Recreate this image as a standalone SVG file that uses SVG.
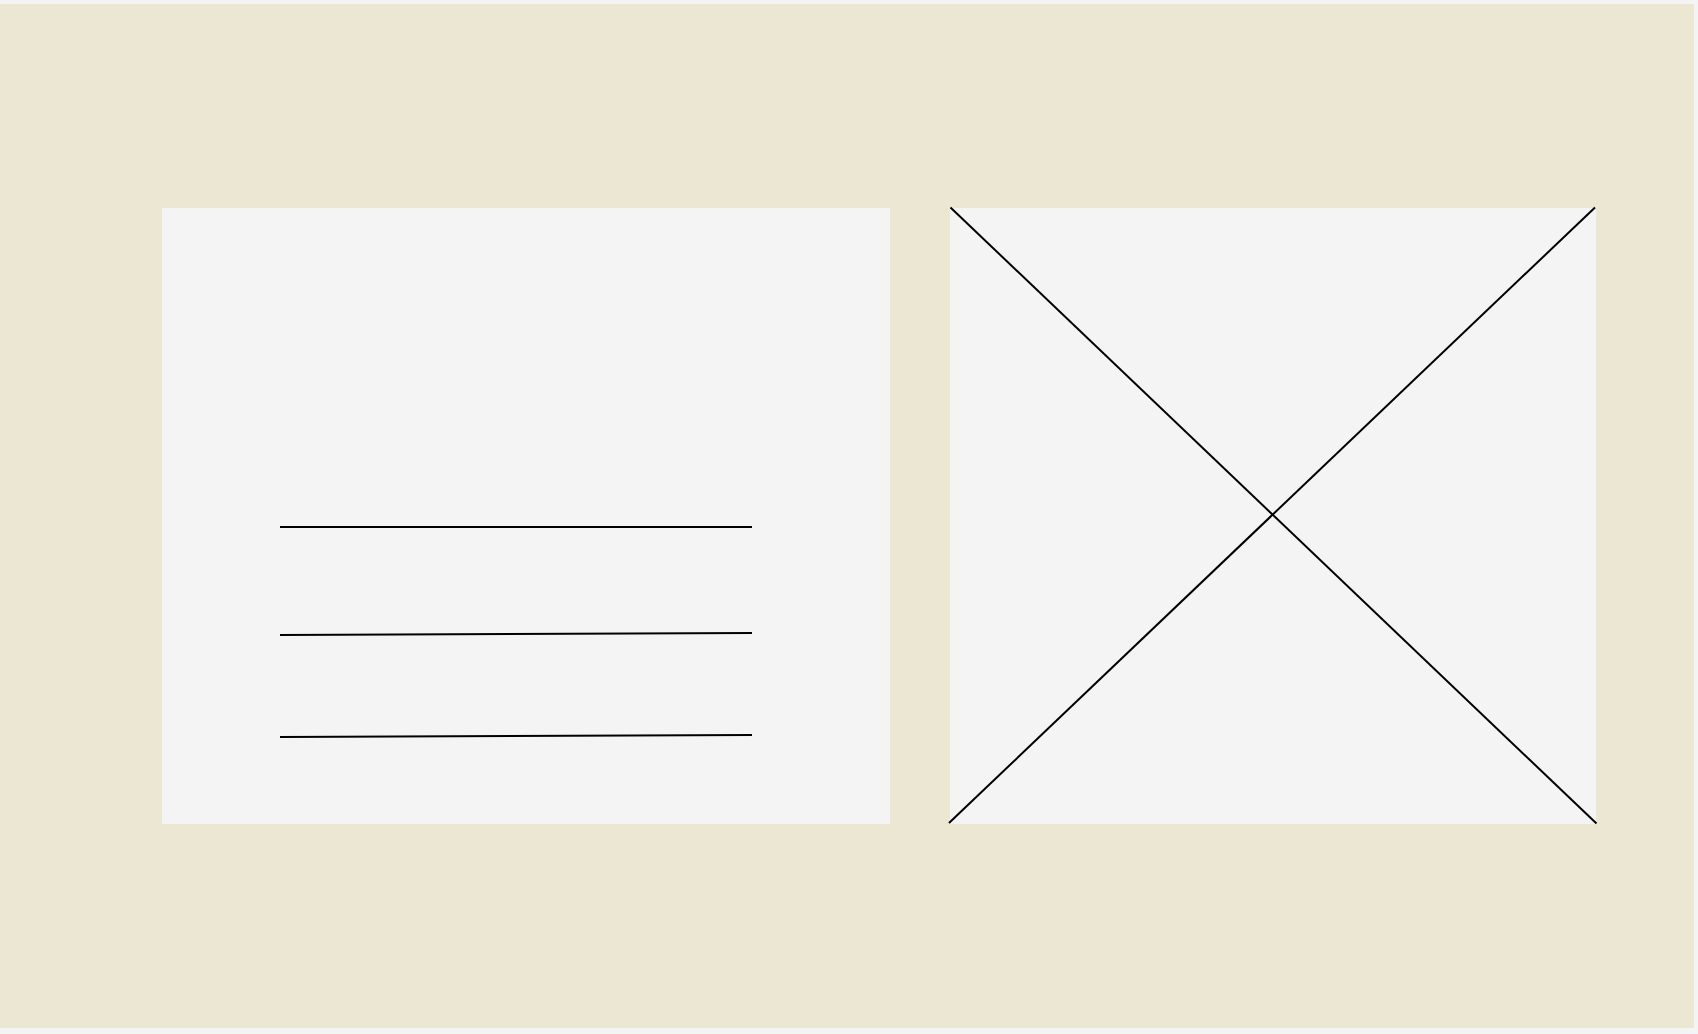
<svg xmlns="http://www.w3.org/2000/svg" width="1698" height="1034" viewBox="0 0 1698 1034">
<style>
.panel{fill:#f4f4f4}
.ln{stroke:#000;stroke-width:2;fill:none}
</style>
<rect x="0" y="0" width="1698" height="1034" fill="#f4f4f4"/>
<rect x="0" y="4" width="1694" height="1024" fill="#ece7d3"/>
<g id="text-panel">
<rect class="panel" x="162" y="208" width="728" height="616"/>
<line class="ln" x1="280" y1="527" x2="752" y2="527"/>
<line class="ln" x1="280" y1="635" x2="752" y2="633"/>
<line class="ln" x1="280" y1="737" x2="752" y2="735"/>
</g>
<g id="image-panel">
<rect class="panel" x="950" y="208" width="646" height="616"/>
<line class="ln" x1="950.5" y1="207.5" x2="1596.5" y2="823.5"/>
<line class="ln" x1="949" y1="823" x2="1595" y2="207.5"/>
</g>
</svg>
